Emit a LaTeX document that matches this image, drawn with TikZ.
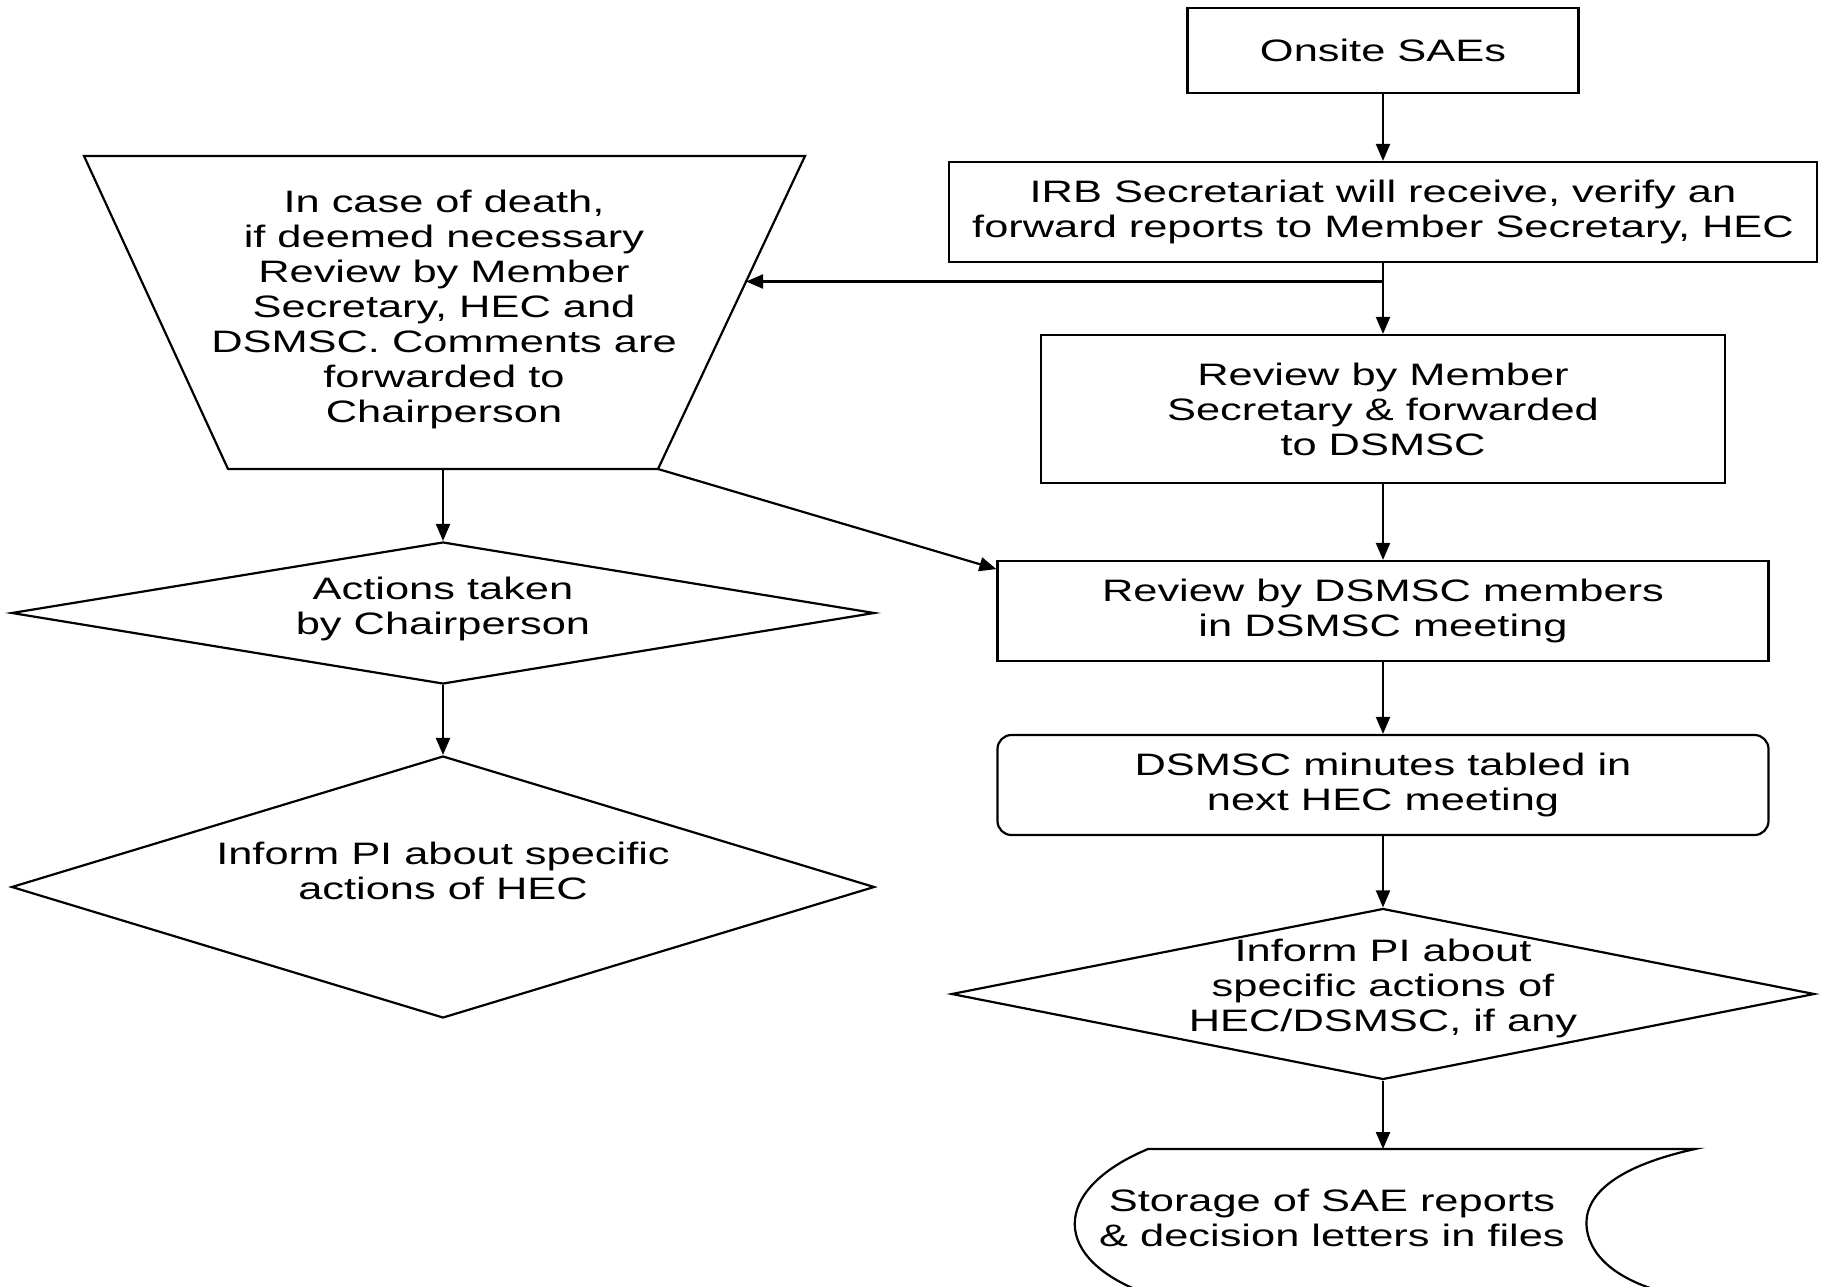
\documentclass[tikz,border=0pt]{standalone}
\usepackage{fontspec}
\setmainfont{Liberation Sans}[FakeStretch=1.4]
\usetikzlibrary{shapes.geometric,arrows.meta,calc}
\begin{document}
\begin{tikzpicture}[x=1pt,y=-1pt,line width=2.2pt,
  every node/.style={font=\fontsize{31}{35}\selectfont, align=center},
  box/.style={draw, rectangle, inner sep=0pt},
  dia/.style={draw, diamond, inner sep=0pt},
  arr/.style={-{Triangle[length=17pt,width=14pt]}}]
\fill[white] (0,0) rectangle (1824,1287);
\useasboundingbox (0,0) rectangle (1824,1287);

% right column
\node[box, minimum width=391pt, minimum height=85pt] (onsite) at (1383,50.5) {Onsite SAEs};
\node[box, minimum width=868pt, minimum height=100pt] (irb) at (1383,212) {IRB Secretariat will receive, verify an\\forward reports to Member Secretary, HEC};
\node[box, minimum width=684pt, minimum height=148pt] (rev) at (1383,409) {Review by Member\\Secretary \& forwarded\\to DSMSC};
\node[box, minimum width=771pt, minimum height=100pt] (dsm) at (1383,611) {Review by DSMSC members\\in DSMSC meeting};
\node[box, rounded corners=14pt, minimum width=771pt, minimum height=100pt] (mins) at (1383,785) {DSMSC minutes tabled in\\next HEC meeting};
\node[dia, minimum width=863pt, minimum height=171pt] (inf2) at (1383,994) {};
\node (inf2t) at (1383,988) {Inform PI about\\specific actions of\\HEC/DSMSC, if any};

% storage
\coordinate (stTL) at (1148,1149);
\coordinate (stTR) at (1695,1149);
\coordinate (stTop) at (1383,1149);
\draw (1150,1295) .. controls (1050,1260) and (1050,1190) .. (stTL) -- (stTR)
  .. controls (1600,1170) and (1580,1205) .. (1588,1235)
  .. controls (1596,1265) and (1630,1285) .. (1675,1295);
\node (stor) at (1332,1218) {Storage of SAE reports\\\& decision letters in files};

% left column
\coordinate (tTL) at (84,156);
\coordinate (tTR) at (805,156);
\coordinate (tBR) at (658,469);
\coordinate (tBL) at (228,469);
\coordinate (tB) at (443,469);
\draw (tTL) -- (tTR) -- (tBR) -- (tBL) -- cycle;
\node (trapt) at (444,309) {In case of death,\\if deemed necessary\\Review by Member\\Secretary, HEC and\\DSMSC. Comments are\\forwarded to\\Chairperson};
\coordinate (tIn) at ($(tTR)!0.401!(tBR)$);

\node[dia, minimum width=863pt, minimum height=142pt] (act) at (443,613) {};
\node (actt) at (443,609) {Actions taken\\by Chairperson};
\node[dia, minimum width=863pt, minimum height=262pt] (inf1) at (443,887) {};
\node (inf1t) at (443,871) {Inform PI about specific\\actions of HEC};

% connectors
\coordinate (br) at (irb.south |- tIn);
\coordinate (dIn) at ($(dsm.north west)!0.09!(dsm.south west)$);
\draw[arr] (onsite) -- (irb);
\draw[arr] (irb) -- (rev);
\draw[arr] (br) -- (tIn);
\draw[arr] (rev) -- (dsm);
\draw[arr] (dsm) -- (mins);
\draw[arr] (mins) -- (inf2);
\draw[arr] (inf2) -- (stTop);
\draw[arr] (tB) -- (tB |- act.north);
\draw[arr] (act) -- (inf1);
\draw[arr] (tBR) -- (dIn);
\end{tikzpicture}
\end{document}
